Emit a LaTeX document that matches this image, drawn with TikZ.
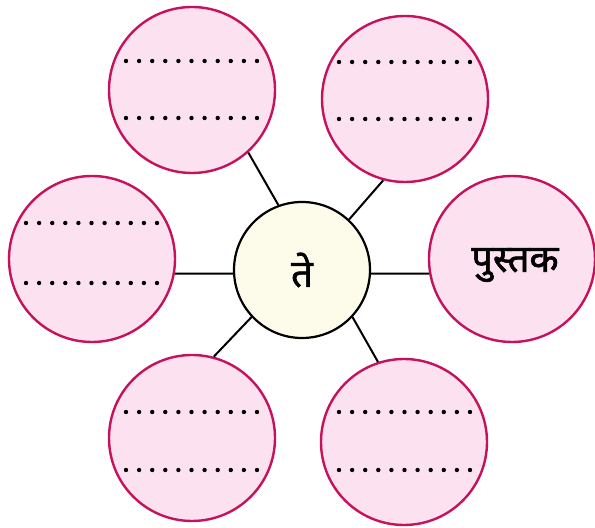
\documentclass[tikz,border=0pt]{standalone}
\usepackage{fontspec}
\newfontfamily\devfont[Script=Devanagari, FakeBold=1.6]{Noto Sans}
\definecolor{petalpink}{RGB}{252, 226, 240}
\definecolor{rim}{RGB}{198, 18, 92}
\definecolor{core}{RGB}{253, 252, 234}

\begin{document}
\begin{tikzpicture}[x=0.5pt, y=-0.5pt,
    petal/.style={circle, draw=rim, fill=petalpink, line width=1.2pt, minimum size=83pt, inner sep=0pt},
    hub/.style={circle, draw=black, fill=core, line width=1.1pt, minimum size=68pt, inner sep=0pt},
    spoke/.style={black, line width=1pt},
    word/.style={font=\devfont\fontsize{19}{22}\selectfont}]
  \useasboundingbox (0, 0) rectangle (595, 528);

  \node[hub] (hub) at (302, 270) {};
  \node[word] (hubtext) at (hub) {ते};

  \node[petal] (tl) at (192, 90) {};
  \node[petal] (tr) at (405, 99) {};
  \node[petal] (lf) at (92, 259) {};
  \node[petal] (rt) at (512, 259) {};
  \node[petal] (bl) at (192, 438) {};
  \node[petal] (br) at (404, 442) {};
  \node[word] (rttext) at (515, 265) {पुस्तक};

  \draw[spoke] (hub.110) -- (tl.-48);
  \draw[spoke] (hub.47) -- (tr.255);
  \draw[spoke] (hub.183) -- (lf.-10);
  \draw[spoke] (hub.-3) -- (rt.190);
  \draw[spoke] (hub.223) -- (bl.75);
  \draw[spoke] (hub.317) -- (br.108);

  % dotted blanks to fill in
  \foreach \x/\y in {126/61, 126/118, 339/62, 339/119, 26/223, 26/283,
                     126/412, 126/470, 339/412, 339/470} {
    \foreach \k in {0, ..., 10} {
      \fill (\x + 13.1 * \k, \y) circle (1.1pt);
    }
  }
\end{tikzpicture}
\end{document}
